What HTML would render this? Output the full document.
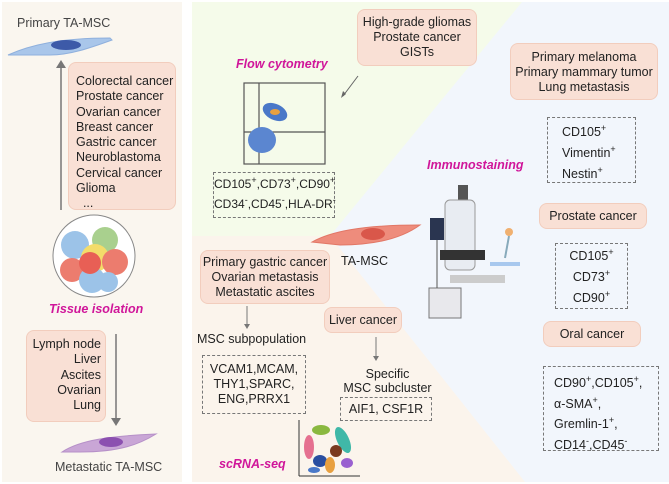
<!DOCTYPE html>
<html><head><meta charset="utf-8"><style>
body{margin:0;width:669px;height:484px;position:relative;background:#fff;font-family:"Liberation Sans",sans-serif;color:#222;overflow:hidden}
.a{position:absolute}
.pb{position:absolute;background:#f9e0d5;border:1px solid #f2cdbd;border-radius:8px;font-size:12.5px;line-height:15px;text-align:center;box-sizing:border-box;white-space:nowrap}
.db{position:absolute;border:1px dashed #777;font-size:12.5px;box-sizing:border-box;text-align:center;white-space:nowrap}
.t{position:absolute;font-size:12.5px;white-space:nowrap}
.m{position:absolute;color:#d0169a;font-weight:bold;font-style:italic;font-size:12.5px;white-space:nowrap}
sup{font-size:9px;line-height:0}
</style></head><body>
<div class="a" style="left:2px;top:2px;width:180px;height:480px;background:#faf6ef"></div>
<svg class="a" style="left:0;top:0" width="669" height="484">
<polygon points="192,2 669,2 669,482 192,482" fill="#f2f6fc"/>
<polygon points="192,2 522,2 330,236 192,236" fill="#f5fbea"/>
<polygon points="192,236 330,236 525,482 192,482" fill="#fbf4ec"/>
<line x1="61" y1="210" x2="61" y2="66" stroke="#777" stroke-width="1.5"/>
<polygon points="56,68 66,68 61,60" fill="#777"/>
<line x1="116" y1="334" x2="116" y2="420" stroke="#777" stroke-width="1.5"/>
<polygon points="111,418 121,418 116,426" fill="#777"/>
<path d="M8,55 C30,45 60,38 110,38 L112,40 C90,48 70,55 50,55 Z" fill="#a9c6ea" stroke="#8fb0dd"/>
<ellipse cx="66" cy="45" rx="15" ry="5" fill="#3d5aa8"/>
<path d="M62,452 C80,440 110,436 156,434 C140,444 120,452 80,452 Z" fill="#c9a6d6" stroke="#b690c8"/>
<ellipse cx="111" cy="442" rx="12" ry="5" fill="#8c50b0"/>
<circle cx="94" cy="256" r="41" fill="#fff" stroke="#888"/>
<circle cx="75" cy="245" r="14" fill="#9cc3e8"/><circle cx="105" cy="240" r="13" fill="#a9d08e"/>
<circle cx="95" cy="258" r="14" fill="#f3dc6a"/><circle cx="115" cy="262" r="13" fill="#ec7c6e"/>
<circle cx="72" cy="270" r="12" fill="#ec7c6e"/><circle cx="92" cy="280" r="13" fill="#9cc3e8"/>
<circle cx="90" cy="263" r="11" fill="#e85f55"/><circle cx="108" cy="282" r="10" fill="#9cc3e8"/>
<rect x="244" y="83" width="81" height="81" fill="none" stroke="#555" stroke-width="1.2"/>
<line x1="259" y1="83" x2="259" y2="164" stroke="#555" stroke-width="1.2"/>
<line x1="244" y1="132" x2="325" y2="132" stroke="#555" stroke-width="1.2"/>
<ellipse cx="275" cy="112" rx="13" ry="8" fill="#4a78c8" transform="rotate(25 275 112)"/>
<ellipse cx="275" cy="112" rx="5" ry="3" fill="#e8a040"/>
<ellipse cx="262" cy="140" rx="14" ry="13" fill="#5b86d0"/>
<line x1="358" y1="76" x2="343" y2="96" stroke="#666"/><polygon points="341,98 346,94 343,91" fill="#666"/>
<path d="M312,242 C330,232 360,225 420,225 C405,236 380,245 340,245 Z" fill="#ee8c7c" stroke="#e27766"/>
<ellipse cx="373" cy="234" rx="12" ry="6" fill="#d9574a"/>
<rect x="430" y="218" width="14" height="22" fill="#2a3550"/>
<rect x="458" y="185" width="10" height="25" fill="#555"/>
<rect x="445" y="200" width="30" height="70" rx="5" fill="#e8ecf2" stroke="#999"/>
<rect x="440" y="250" width="45" height="10" fill="#333"/>
<rect x="450" y="275" width="55" height="8" fill="#ccc"/>
<rect x="429" y="288" width="32" height="30" fill="#e8e8ec" stroke="#777"/>
<line x1="437" y1="240" x2="437" y2="288" stroke="#555"/>
<circle cx="509" cy="232" r="4" fill="#f0b070"/>
<line x1="509" y1="236" x2="505" y2="258" stroke="#8ab" stroke-width="2"/>
<rect x="490" y="262" width="30" height="4" fill="#a8c8ee"/>
<line x1="247" y1="306" x2="247" y2="326" stroke="#777"/><polygon points="244,324 250,324 247,329" fill="#777"/>
<line x1="376" y1="337" x2="376" y2="358" stroke="#777"/><polygon points="373,356 379,356 376,361" fill="#777"/>
<line x1="299" y1="420" x2="299" y2="476" stroke="#333"/><line x1="299" y1="476" x2="360" y2="476" stroke="#333"/>
<ellipse cx="309" cy="447" rx="5" ry="12" fill="#e57090"/>
<ellipse cx="321" cy="430" rx="9" ry="5" fill="#8ab840"/>
<ellipse cx="343" cy="440" rx="6" ry="14" fill="#40b8a8" transform="rotate(-25 343 440)"/>
<ellipse cx="336" cy="451" rx="6" ry="6" fill="#7a3a20"/>
<ellipse cx="320" cy="461" rx="7" ry="6" fill="#2a4ea0"/>
<ellipse cx="330" cy="465" rx="5" ry="8" fill="#e8a040"/>
<ellipse cx="347" cy="463" rx="6" ry="5" fill="#9a60d0"/>
<ellipse cx="314" cy="470" rx="6" ry="3" fill="#4a78c8"/>
</svg>
<div class="t" style="left:17px;top:16px;color:#444">Primary TA-MSC</div>
<div class="pb" style="left:68px;top:62px;width:108px;height:148px;text-align:left;padding:11px 0 0 7px;line-height:15.3px">Colorectal cancer<br>Prostate cancer<br>Ovarian cancer<br>Breast cancer<br>Gastric cancer<br>Neuroblastoma<br>Cervical cancer<br>Glioma<br>&nbsp;&nbsp;...</div>
<div class="m" style="left:49px;top:302px">Tissue isolation</div>
<div class="pb" style="left:26px;top:330px;width:80px;height:92px;text-align:right;padding:6px 4px 0 0;line-height:15.3px">Lymph node<br>Liver<br>Ascites<br>Ovarian<br>Lung</div>
<div class="t" style="left:55px;top:460px;color:#444">Metastatic TA-MSC</div>
<div class="m" style="left:236px;top:57px">Flow cytometry</div>
<div class="pb" style="left:357px;top:9px;width:120px;height:57px;padding-top:5px">High-grade gliomas<br>Prostate cancer<br>GISTs</div>
<div class="db" style="left:213px;top:172px;width:122px;height:46px;line-height:20px;padding-top:1px;font-size:12px">CD105<sup>+</sup>,CD73<sup>+</sup>,CD90<sup>+</sup><br>CD34<sup>-</sup>,CD45<sup>-</sup>,HLA-DR<sup>-</sup></div>
<div class="pb" style="left:510px;top:43px;width:148px;height:57px;padding-top:6px">Primary melanoma<br>Primary mammary tumor<br>Lung metastasis</div>
<div class="db" style="left:547px;top:117px;width:89px;height:66px;text-align:left;padding:4px 0 0 14px;line-height:21px">CD105<sup>+</sup><br>Vimentin<sup>+</sup><br>Nestin<sup>+</sup></div>
<div class="m" style="left:427px;top:158px">Immunostaining</div>
<div class="pb" style="left:539px;top:203px;width:108px;height:26px;line-height:24px">Prostate cancer</div>
<div class="db" style="left:555px;top:243px;width:73px;height:66px;line-height:21px;padding-top:2px">CD105<sup>+</sup><br>CD73<sup>+</sup><br>CD90<sup>+</sup></div>
<div class="pb" style="left:543px;top:321px;width:98px;height:26px;line-height:24px">Oral cancer</div>
<div class="db" style="left:543px;top:366px;width:116px;height:85px;text-align:left;padding:6px 0 0 10px;line-height:20.5px">CD90<sup>+</sup>,CD105<sup>+</sup>,<br>α-SMA<sup>+</sup>,<br>Gremlin-1<sup>+</sup>,<br>CD14<sup>-</sup>,CD45<sup>-</sup></div>
<div class="t" style="left:341px;top:254px">TA-MSC</div>
<div class="pb" style="left:200px;top:250px;width:130px;height:54px;padding-top:4px">Primary gastric cancer<br>Ovarian metastasis<br>Metastatic ascites</div>
<div class="pb" style="left:324px;top:307px;width:78px;height:26px;line-height:24px">Liver cancer</div>
<div class="t" style="left:197px;top:332px">MSC subpopulation</div>
<div class="db" style="left:202px;top:355px;width:104px;height:59px;line-height:15px;padding-top:6px">VCAM1,MCAM,<br>THY1,SPARC,<br>ENG,PRRX1</div>
<div class="t" style="left:340px;top:367px;text-align:center;line-height:14px;width:95px">Specific<br>MSC subcluster</div>
<div class="db" style="left:340px;top:397px;width:92px;height:24px;line-height:22px">AIF1, CSF1R</div>
<div class="m" style="left:219px;top:457px">scRNA-seq</div>
</body></html>
